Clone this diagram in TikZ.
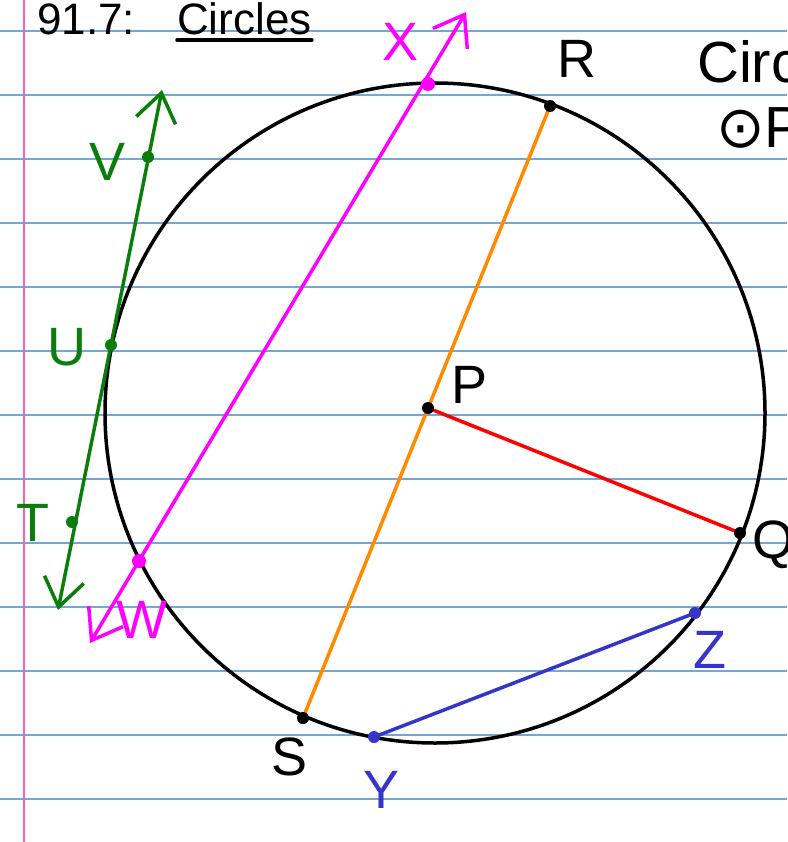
\documentclass[tikz,border=0pt]{standalone}
\usepackage{fontspec}
\setmainfont{Liberation Sans}
\newfontfamily\symfont{DejaVu Sans}
\usepackage{tikz}
\usetikzlibrary{arrows.meta}
\definecolor{ruleblue}{HTML}{6FA8DC}
\definecolor{marginpink}{HTML}{FF5FA8}
\definecolor{penblack}{HTML}{000000}
\definecolor{pengreen}{HTML}{0A7D0A}
\definecolor{penmagenta}{HTML}{FF00FF}
\definecolor{penorange}{HTML}{FF8A00}
\definecolor{penred}{HTML}{FF0000}
\definecolor{penblue}{HTML}{3535C8}
\tikzset{
  paperrule/.style={ruleblue, line width=1.6pt},
  pendot/.style={circle, fill, inner sep=0pt, minimum size=12pt},
  penlabel/.style={font=\fontsize{54}{54}\selectfont, inner sep=0pt},
  pentitle/.style={font=\fontsize{44}{44}\selectfont, inner sep=0pt},
  penline/.style={line width=3.5pt, line cap=round, line join=round},
  penarrow/.style={penline, {Straight Barb[length=28pt,width=40pt]}-{Straight Barb[length=28pt,width=40pt]}},
}

\begin{document}
\begin{tikzpicture}[x=1pt, y=-1pt]
  \useasboundingbox (0,0) rectangle (787,842);
  \clip (0,0) rectangle (787,842);
  % notebook paper
  \foreach \k in {0,...,12}
    \draw[paperrule] (0,{31+64*\k}) -- (787,{31+64*\k});
  \draw[marginpink, line width=1.6pt] (24,0) -- (24,842);

  % title and side note
  \node[pentitle, anchor=base west] (sec) at (37,35) {91.7:};
  \node[pentitle, anchor=base west] (ttl) at (177,35) {Circles};
  \draw[penline] ([yshift=-5pt]ttl.base west) -- ([yshift=-5pt]ttl.base east);
  \node[penlabel, anchor=west, font=\fontsize{58}{58}\selectfont] (note) at (697,62) {Circle};
  \node[penlabel, anchor=west, font=\fontsize{58}{58}\selectfont] (notep) at (716,128) {{\symfont ⊙}P};

  % circle P
  \draw[penline] (435,413) circle [radius=330];

  % points
  \coordinate (P) at (428,408);
  \coordinate (R) at (550,106);
  \coordinate (S) at (303,718);
  \coordinate (Q) at (740,533);
  \coordinate (X) at (428,84);
  \coordinate (W) at (139,561);
  \coordinate (Y) at (374,737);
  \coordinate (Z) at (695,613);
  \coordinate (V) at (148,157);
  \coordinate (U) at (111,345);
  \coordinate (T) at (72,522);
  \coordinate (xtip) at (466,12);
  \coordinate (wtip) at (90,643);
  \coordinate (vtip) at (162,90);
  \coordinate (ttip) at (58,610);

  % segments and lines
  \draw[penline, penorange] (R) -- (S);
  \draw[penline, penred] (P) -- (Q);
  \draw[penline, penblue] (Y) -- (Z);
  \draw[penarrow, penmagenta] (wtip) -- (xtip);
  \draw[penarrow, pengreen] (ttip) -- (vtip);

  \foreach \pt in {P,R,S,Q} \node[pendot, penblack] at (\pt) {};
  \foreach \pt in {X,W} \node[pendot, penmagenta, minimum size=14pt] at (\pt) {};
  \foreach \pt in {Y,Z} \node[pendot, penblue] at (\pt) {};
  \foreach \pt in {V,U,T} \node[pendot, pengreen] at (\pt) {};

  % labels
  \node[penlabel] (plab) at (470,385) {P};
  \node[penlabel] (rlab) at (577,59) {R};
  \node[penlabel] (slab) at (290,757) {S};
  \node[penlabel] (qlab) at (773,545) {Q};
  \node[penlabel, penmagenta] (xlab) at (401,42) {X};
  \node[penlabel, penmagenta] (wlab) at (142,620) {W};
  \node[penlabel, penblue] (ylab) at (382,790) {Y};
  \node[penlabel, penblue] (zlab) at (710,650) {Z};
  \node[penlabel, pengreen] (vlab) at (108,162) {V};
  \node[penlabel, pengreen] (ulab) at (67,347) {U};
  \node[penlabel, pengreen] (tlab) at (33,523) {T};
\end{tikzpicture}
\end{document}
